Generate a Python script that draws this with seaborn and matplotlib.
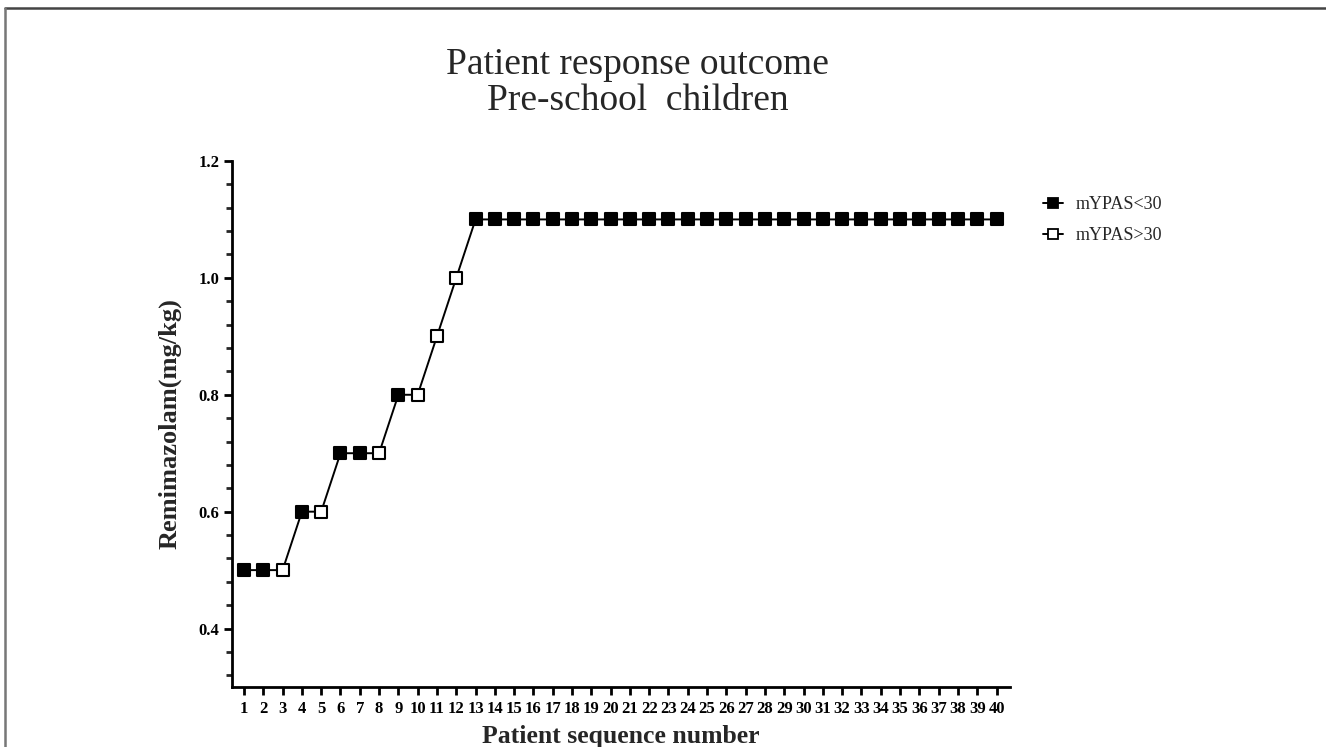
import numpy as np
import pandas as pd
import matplotlib
matplotlib.use("Agg")
import matplotlib.pyplot as plt
from matplotlib.lines import Line2D
from matplotlib.ticker import FixedLocator, FormatStrFormatter
import seaborn as sns

# Sequential dose data (up-and-down allocation)
patient = list(range(1, 41))
dose = [0.5, 0.5, 0.5, 0.6, 0.6, 0.7, 0.7, 0.7, 0.8, 0.8,
        0.9, 1.0] + [1.1] * 28
response = (["mYPAS<30", "mYPAS<30", "mYPAS>30", "mYPAS<30", "mYPAS>30",
             "mYPAS<30", "mYPAS<30", "mYPAS>30", "mYPAS<30", "mYPAS>30",
             "mYPAS>30", "mYPAS>30"] + ["mYPAS<30"] * 28)
groups = ["mYPAS<30", "mYPAS>30"]
y_major = [0.4, 0.6, 0.8, 1.0, 1.2]
y_minor = [0.32, 0.36, 0.44, 0.48, 0.52, 0.56, 0.64, 0.68, 0.72, 0.76,
           0.84, 0.88, 0.92, 0.96, 1.04, 1.08, 1.12, 1.16]

df = pd.DataFrame({"patient": patient, "dose": dose, "response": response})

sns.set_theme(style="ticks")
plt.rcParams["font.family"] = ["Liberation Serif", "DejaVu Serif"]

fig = plt.figure(figsize=(13.26, 7.47), dpi=100)
ax = fig.add_axes([0.175, 0.0803, 0.5867, 0.7042])

sns.lineplot(data=df, x="patient", y="dose", color="black", lw=1.4,
             ax=ax, legend=False, zorder=1)
face = {"mYPAS<30": "black", "mYPAS>30": "white"}
for g in groups:
    sub = df[df["response"] == g]
    sns.scatterplot(data=sub, x="patient", y="dose", marker="s", s=85,
                    color=face[g], edgecolor="black", linewidth=1.5,
                    ax=ax, legend=False, zorder=3)

ax.set_xlim(0.38, 40.7)
ax.set_ylim(0.3, 1.2)
ax.xaxis.set_major_locator(FixedLocator(patient))
ax.set_xticklabels([str(p) for p in patient])
ax.yaxis.set_major_locator(FixedLocator(y_major))
ax.yaxis.set_minor_locator(FixedLocator(y_minor))
ax.yaxis.set_major_formatter(FormatStrFormatter("%.1f"))

for side in ["top", "right"]:
    ax.spines[side].set_visible(False)
for side in ["left", "bottom"]:
    ax.spines[side].set_linewidth(2.0)
    ax.spines[side].set_color("black")

ax.tick_params(axis="both", which="major", direction="out", length=6,
               width=2.0, colors="black", labelsize=12, pad=3)
ax.tick_params(axis="x", which="major", pad=4)
ax.tick_params(axis="y", which="minor", direction="out", length=4, width=2.0)
for lab in ax.get_xticklabels() + ax.get_yticklabels():
    lab.set_fontweight("bold")

ax.set_xlabel("Patient sequence number", fontsize=18.5, fontweight="bold",
              labelpad=6)
ax.set_ylabel("Remimazolam(mg/kg)", fontsize=19, fontweight="bold",
              labelpad=12)

fig.text(0.481, 0.8896, "Patient response outcome\nPre-school  children",
         ha="center", va="center", fontsize=27, linespacing=1.05)

handles = [Line2D([0], [0], color="black", lw=1.4, marker="s",
                  markersize=7.5, markerfacecolor=face[g],
                  markeredgecolor="black", markeredgewidth=1.3)
           for g in groups]
ax.legend(handles, groups, loc="upper left",
          bbox_to_anchor=(1043 / 1326, 1 - 196 / 747),
          bbox_transform=fig.transFigure, borderpad=0, borderaxespad=0,
          frameon=False, fontsize=13, handlelength=1.1,
          handletextpad=0.7, labelspacing=0.8)

# thin frame along the top and left edges of the canvas
fig.add_artist(Line2D([0.004, 1.0], [0.989, 0.989], transform=fig.transFigure,
                      color="#444444", lw=1.8))
fig.add_artist(Line2D([0.004, 0.004], [0.0, 0.989], transform=fig.transFigure,
                      color="#777777", lw=1.8))

fig.savefig("out.png", dpi=100, facecolor="white")
